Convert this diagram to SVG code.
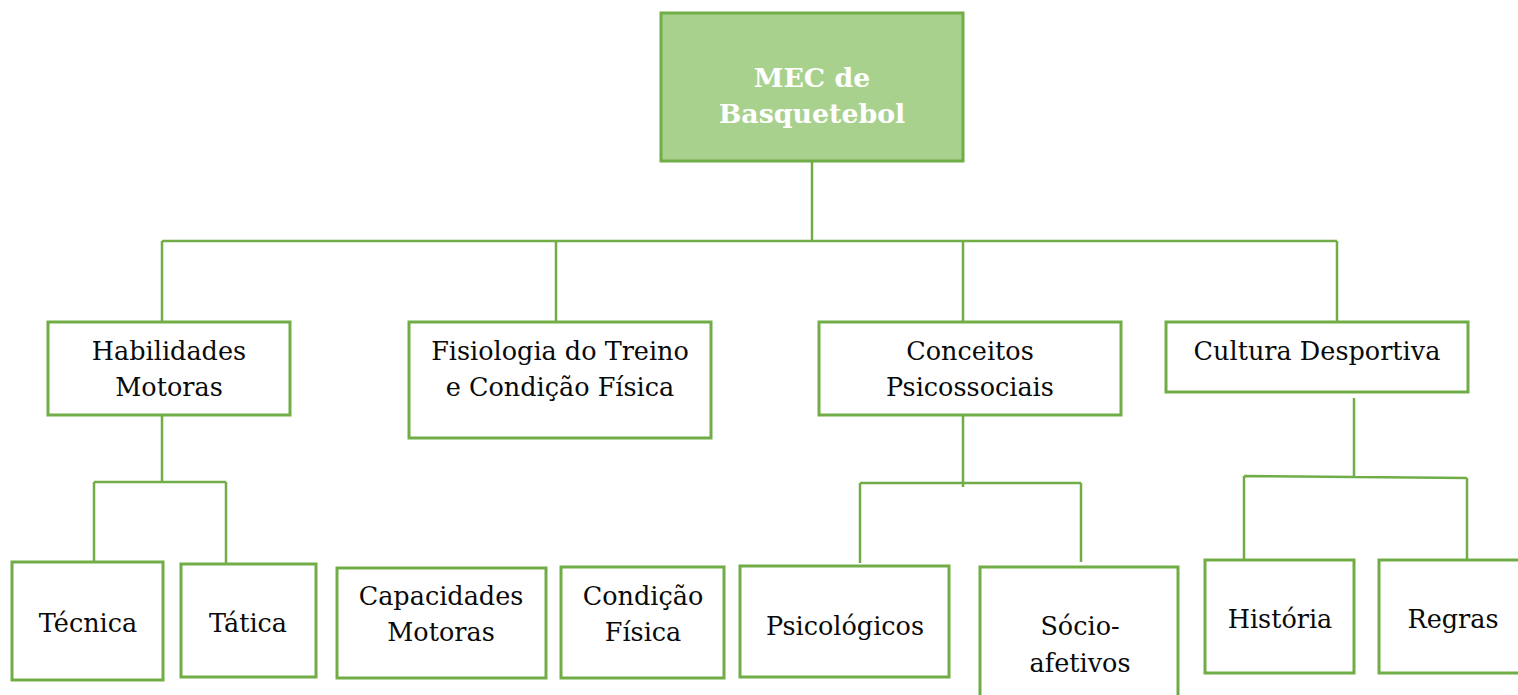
<svg xmlns="http://www.w3.org/2000/svg" width="1518" height="695" viewBox="0 0 1518 695">
<style>
.box{fill:#ffffff;stroke:#70AD47;stroke-width:3}
.root{fill:#A9D18E;stroke:#70AD47;stroke-width:3}
.ln{fill:none;stroke:#70AD47;stroke-width:2.5}
.t{font-family:"DejaVu Serif","Liberation Serif",serif;font-size:25.5px;fill:#0a0a0a;text-anchor:middle}
.rt{font-family:"DejaVu Serif","Liberation Serif",serif;font-size:26.8px;font-weight:bold;fill:#ffffff;text-anchor:middle}
</style>
<rect width="1518" height="695" fill="#ffffff"/>
<g id="connectors">
<path class="ln" d="M812,162 V241 M162,241 H1337 M162,241 V321 M556,241 V321 M963,241 V321 M1337,241 V321"/>
<path class="ln" d="M162,416 V482 M94,482 H226 M94,482 V562 M226,482 V563"/>
<path class="ln" d="M963,415 V487 M860,483 H1081 M860,483 V563 M1081,483 V562"/>
<path class="ln" d="M1354,398 V476 M1244,476 L1467,478 M1244,476 V560 M1467,478 V560"/>
</g>
<g id="root"><rect class="root" x="661" y="13" width="302" height="148"/><text class="rt" x="812" y="87">MEC de</text><text class="rt" x="812" y="123">Basquetebol</text></g>
<g id="habilidades"><rect class="box" x="48" y="322" width="242" height="93"/><text class="t" x="169" y="360">Habilidades</text><text class="t" x="169" y="396">Motoras</text></g>
<g id="fisiologia"><rect class="box" x="409" y="322" width="302" height="116"/><text class="t" x="560" y="360">Fisiologia do Treino</text><text class="t" x="560" y="396">e Condição Física</text></g>
<g id="conceitos"><rect class="box" x="819" y="322" width="302" height="93"/><text class="t" x="970" y="360">Conceitos</text><text class="t" x="970" y="396">Psicossociais</text></g>
<g id="cultura"><rect class="box" x="1166" y="322" width="302" height="70"/><text class="t" x="1317" y="360">Cultura Desportiva</text></g>
<g id="tecnica"><rect class="box" x="12" y="562" width="151" height="118"/><text class="t" x="88" y="632">Técnica</text></g>
<g id="tatica"><rect class="box" x="181" y="564" width="135" height="113"/><text class="t" x="248" y="632">Tática</text></g>
<g id="capacidades"><rect class="box" x="337" y="568" width="209" height="110"/><text class="t" x="441" y="605">Capacidades</text><text class="t" x="441" y="641">Motoras</text></g>
<g id="condicao"><rect class="box" x="561" y="567" width="163" height="111"/><text class="t" x="643" y="605">Condição</text><text class="t" x="643" y="641">Física</text></g>
<g id="psicologicos"><rect class="box" x="740" y="566" width="209" height="111"/><text class="t" x="845" y="635">Psicológicos</text></g>
<g id="socio"><rect class="box" x="980" y="567" width="198" height="140"/><text class="t" x="1080" y="635">Sócio-</text><text class="t" x="1080" y="672">afetivos</text></g>
<g id="historia"><rect class="box" x="1205" y="560" width="149" height="113"/><text class="t" x="1280" y="628">História</text></g>
<g id="regras"><rect class="box" x="1379" y="560" width="150" height="113"/><text class="t" x="1453" y="628">Regras</text></g>
</svg>
